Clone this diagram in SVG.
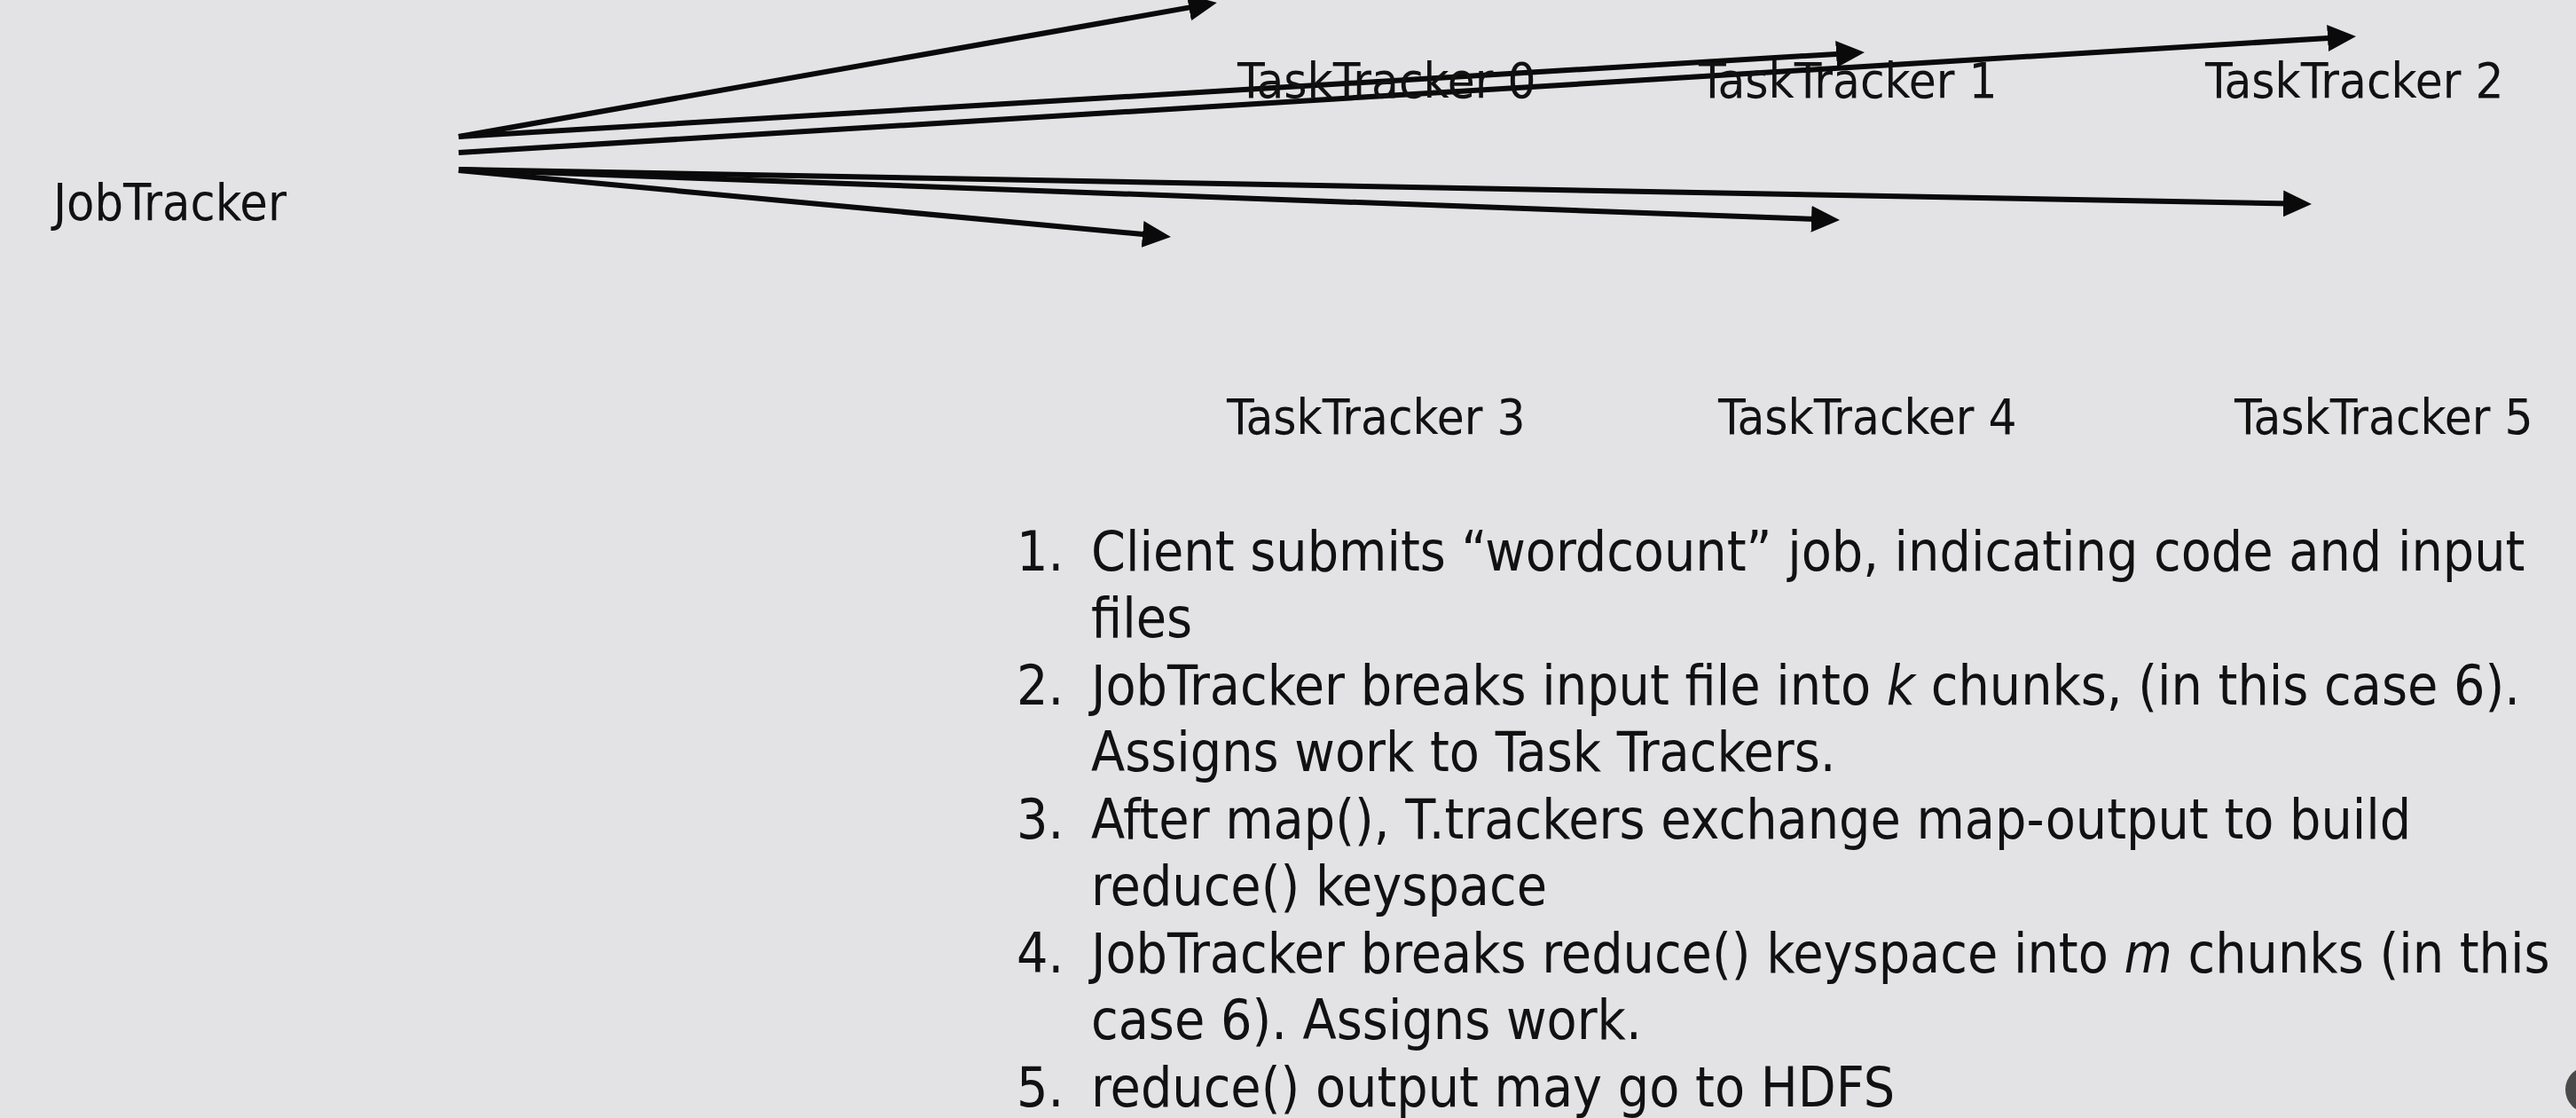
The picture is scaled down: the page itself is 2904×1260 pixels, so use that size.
<svg xmlns="http://www.w3.org/2000/svg" width="2904" height="1260" viewBox="0 0 2904 1260">
<style>
  .lbl { font-family: "DejaVu Sans Condensed", "DejaVu Sans", sans-serif; font-stretch: condensed; fill: #111; }
  .node { font-size: 56px; }
  .list { font-size: 62px; }
  .conn line { stroke: #0a0a0a; stroke-width: 6; fill: none; marker-end: url(#ah); }
</style>
<defs>
  <marker id="ah" markerUnits="userSpaceOnUse" markerWidth="32" markerHeight="30" viewBox="0 0 32 30" refX="21" refY="15" orient="auto">
    <path d="M0,0 L32,15 L0,30 z" fill="#0a0a0a"/>
  </marker>
</defs>
<rect x="0" y="0" width="2904" height="1260" fill="#e3e2e5"/>

<g id="connectors" class="conn">
  <line x1="517" y1="154" x2="1361" y2="4.9"/>
  <line x1="517" y1="154" x2="2091" y2="59.7"/>
  <line x1="517" y1="172" x2="2645" y2="41.7"/>
  <line x1="517" y1="191" x2="2595" y2="229.8"/>
  <line x1="517" y1="191" x2="2063" y2="247.6"/>
  <line x1="517" y1="192" x2="1309" y2="266"/>
</g>

<g id="jobtracker"><text class="lbl" x="60" y="248" style="font-size:57px">JobTracker</text></g>
<g id="tasktracker0"><text class="lbl node" x="1395" y="110">TaskTracker 0</text></g>
<g id="tasktracker1"><text class="lbl node" x="1915" y="110">TaskTracker 1</text></g>
<g id="tasktracker2"><text class="lbl node" x="2486" y="110">TaskTracker 2</text></g>
<g id="tasktracker3"><text class="lbl node" x="1383" y="489">TaskTracker 3</text></g>
<g id="tasktracker4"><text class="lbl node" x="1937" y="489">TaskTracker 4</text></g>
<g id="tasktracker5"><text class="lbl node" x="2519" y="489">TaskTracker 5</text></g>

<g id="steps" class="lbl list">
  <text x="1146" y="643">1.</text>
  <text x="1230" y="643">Client submits “wordcount” job, indicating code and input</text>
  <text x="1230" y="718">files</text>
  <text x="1146" y="794">2.</text>
  <text x="1230" y="794">JobTracker breaks input file into <tspan font-style="italic">k</tspan> chunks, (in this case 6).</text>
  <text x="1230" y="869">Assigns work to Task Trackers.</text>
  <text x="1146" y="945">3.</text>
  <text x="1230" y="945">After map(), T.trackers exchange map-output to build</text>
  <text x="1230" y="1020">reduce() keyspace</text>
  <text x="1146" y="1096">4.</text>
  <text x="1230" y="1096">JobTracker breaks reduce() keyspace into <tspan font-style="italic">m</tspan> chunks (in this</text>
  <text x="1230" y="1171">case 6). Assigns work.</text>
  <text x="1146" y="1247">5.</text>
  <text x="1230" y="1247">reduce() output may go to HDFS</text>
</g>

<circle cx="2918" cy="1228" r="26" fill="#4a4a4a"/>
</svg>
